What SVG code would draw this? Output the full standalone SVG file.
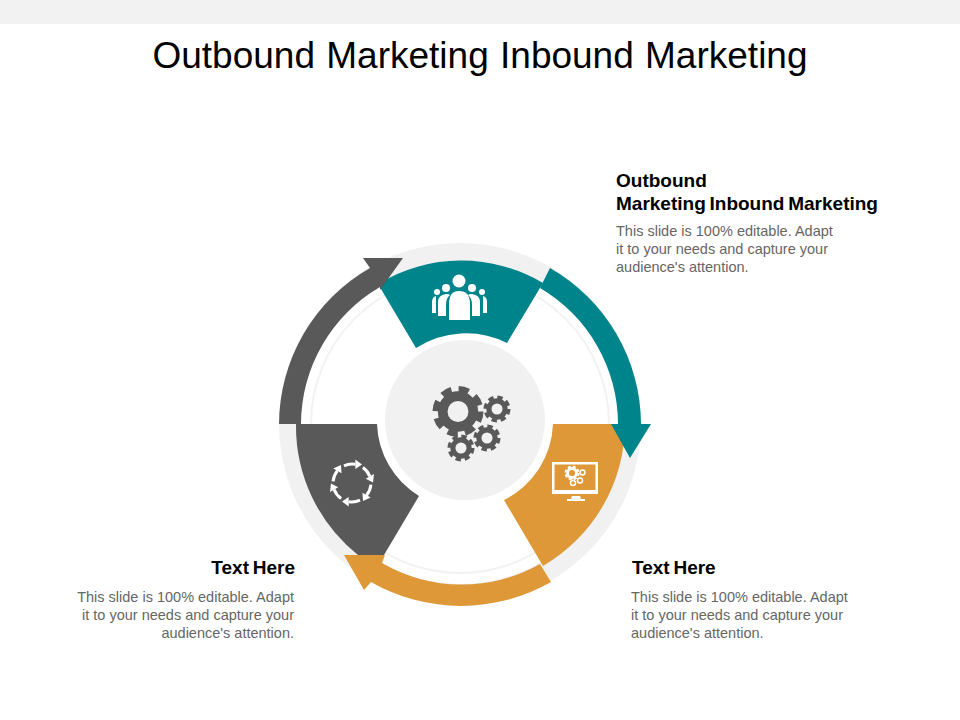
<svg xmlns="http://www.w3.org/2000/svg" width="960" height="720" viewBox="0 0 960 720">
<style>
text{font-family:"Liberation Sans",Arial,sans-serif}
.title{font-size:37px;fill:#000;word-spacing:1px}
.head{font-size:19px;font-weight:bold;fill:#000;word-spacing:-1.500px}
.body{font-size:14.500px;fill:#666}
.end{text-anchor:end}
.dark{color:#595959}
.white{color:#fff}
.teal{fill:#00848c}
.orange{fill:#de9838}
.grey{fill:#595959}
.w{fill:#fff}
</style>
<defs>
<g id="gear" fill="none" stroke="currentColor">
<circle r=".6" stroke-width=".38"/>
<circle r=".87" stroke-width=".26" stroke-dasharray=".4 .283"/>
</g>
<g id="cyc">
<path d="M-8-17.2A19 19 0 0 1 3.3-18.7" fill="none" stroke="#fff" stroke-width="3"/>
<path d="M3.3-23.5V-14L10-18.5Z" fill="#fff"/>
</g>
</defs>
<rect width="960" height="720" fill="#fff"/>
<rect width="960" height="24" fill="#f2f2f2"/>
<text class="title" x="480" y="68" text-anchor="middle">Outbound Marketing Inbound Marketing</text>
<g id="backdrop">
<circle cx="460" cy="424" r="170.500" fill="none" stroke="#f1f1f1" stroke-width="21"/>
<circle cx="460" cy="424" r="149" fill="none" stroke="#f2f2f2" stroke-width="2"/>
</g>
<g id="node-center">
<circle cx="465" cy="420" r="80" fill="#f1f1f1"/>
<g class="dark">
<use href="#gear" transform="translate(458 411.500) scale(25.500)"/>
<use href="#gear" transform="translate(497 409) scale(13.500)"/>
<use href="#gear" transform="translate(487 438) scale(13.500)"/>
<use href="#gear" transform="translate(461 448) scale(13.500)"/>
</g>
</g>
<g id="node-teal">
<path class="teal" d="M378 284A160 160 0 0 1 543 283L507 343A92 92 0 0 0 416 348Z"/>
<g class="w">
<circle cx="437" cy="292" r="3"/><circle cx="482" cy="292" r="3"/>
<path d="M432 313V302Q432 297 436 296V313ZM487 313V302Q487 297 483 296V313Z"/>
<circle cx="446" cy="288" r="4"/><circle cx="472" cy="288" r="4"/>
<path d="M438 316V302Q438 295 446 294Q449 294 450 295Q446 298 446 305V316ZM480 316V302Q480 295 472 294Q469 294 468 295Q472 298 472 305V316Z"/>
<circle cx="459" cy="281" r="6.500"/>
<path d="M449 320V304Q449 291 459 291Q470 291 470 304V320Z"/>
</g>
</g>
<g id="node-orange">
<path class="orange" d="M553 424H625A165 165 0 0 1 543 566L504 500A88 88 0 0 0 553 424Z"/>
<g class="white">
<path class="w" fill-rule="evenodd" d="M552 462H598V494H552ZM554.500 464.500V490H595.500V464.500Z"/>
<path class="w" d="M572 496H580L581 499H585V501H567V499H571Z"/>
<use href="#gear" transform="translate(572 473) scale(7.500)"/>
<g fill="none" stroke="#fff" stroke-width="1.500">
<circle cx="582.500" cy="472.500" r="2.500"/><circle cx="580" cy="480.500" r="2.500"/><circle cx="573" cy="483" r="2.500"/>
</g>
</g>
</g>
<g id="node-grey">
<path class="grey" d="M296 424H377A88 88 0 0 0 419 496L384 555H358A165 165 0 0 1 296 424Z"/>
<g>
<use href="#cyc" transform="translate(352 483)"/>
<use href="#cyc" transform="translate(352 483) rotate(60)"/>
<use href="#cyc" transform="translate(352 483) rotate(120)"/>
<use href="#cyc" transform="translate(352 483) rotate(180)"/>
<use href="#cyc" transform="translate(352 483) rotate(240)"/>
<use href="#cyc" transform="translate(352 483) rotate(300)"/>
</g>
</g>
<g id="connectors">
<path class="teal" d="M550 268A181 181 0 0 1 641 424H651L630 458 611 424H618A158 158 0 0 0 540 288Z"/>
<path class="orange" d="M551 582A181 181 0 0 1 371 582L364 590 344 555H385L382 563A159 159 0 0 0 540 564Z"/>
<path class="grey" d="M279 424A181 181 0 0 1 370 268L363 258H403L380 290 380 287A159 159 0 0 0 301 424Z"/>
</g>
<g id="label-top">
<text class="head" x="616" y="187">Outbound</text>
<text class="head" x="616" y="210">Marketing Inbound Marketing</text>
<text class="body" x="616" y="236">This slide is 100% editable. Adapt</text>
<text class="body" x="616" y="254">it to your needs and capture your</text>
<text class="body" x="616" y="272">audience's attention.</text>
</g>
<g id="label-right">
<text class="head" x="632" y="574">Text Here</text>
<text class="body" x="631" y="602">This slide is 100% editable. Adapt</text>
<text class="body" x="631" y="620">it to your needs and capture your</text>
<text class="body" x="631" y="638">audience's attention.</text>
</g>
<g id="label-left">
<text class="head end" x="295" y="574">Text Here</text>
<text class="body end" x="294" y="602">This slide is 100% editable. Adapt</text>
<text class="body end" x="294" y="620">it to your needs and capture your</text>
<text class="body end" x="294" y="638">audience's attention.</text>
</g>
</svg>
